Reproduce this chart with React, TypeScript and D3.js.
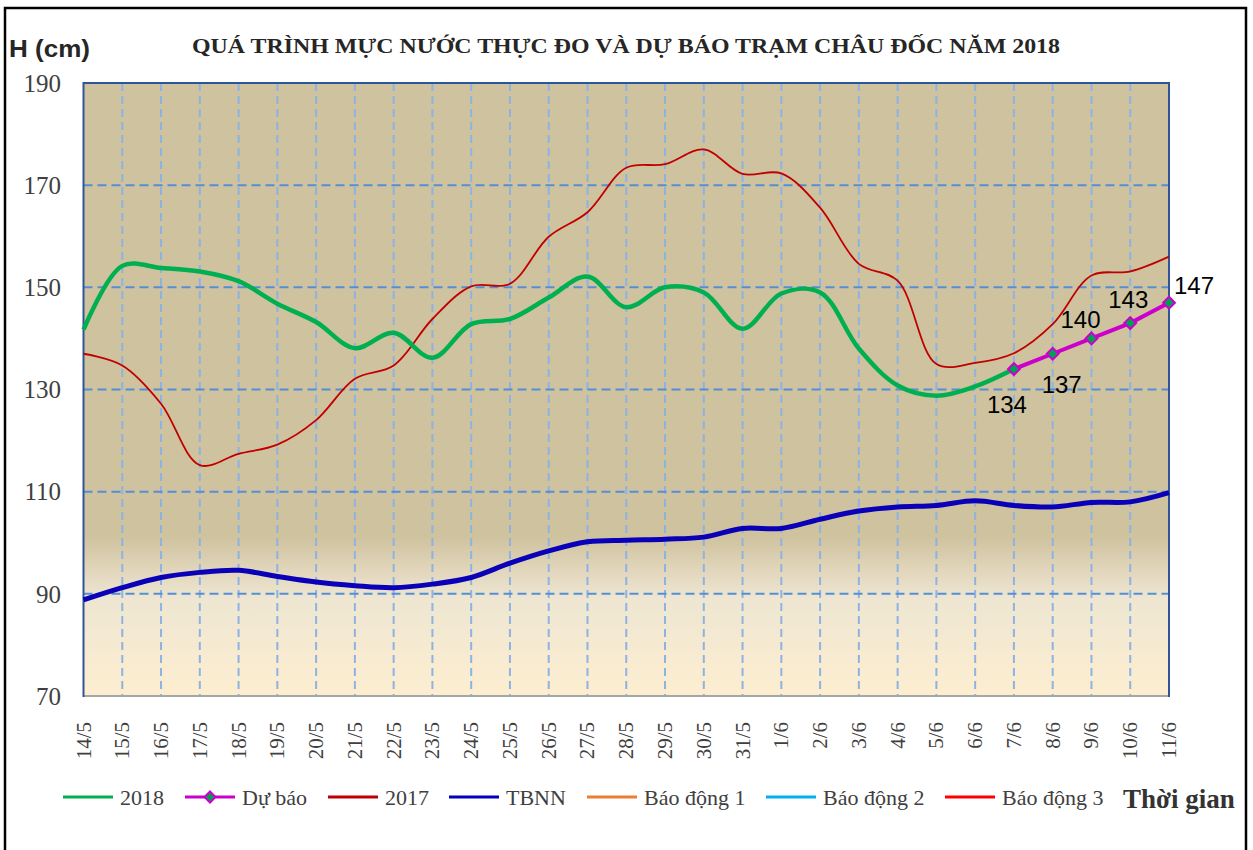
import React, { useEffect, useRef } from "react";
import * as d3 from "d3";

// ngày quan trắc
const days = [
  "14/5", "15/5", "16/5", "17/5", "18/5", "19/5", "20/5", "21/5", "22/5", "23/5",
  "24/5", "25/5", "26/5", "27/5", "28/5", "29/5", "30/5", "31/5",
  "1/6", "2/6", "3/6", "4/6", "5/6", "6/6", "7/6", "8/6", "9/6", "10/6", "11/6",
];

// mực nước thực đo 2018 (14/5 -> 7/6)
const obs2018 = [
  141.7, 154.2, 153.8, 153.1, 151.2, 146.8, 143.2, 138.1, 141.1, 136.2,
  142.8, 143.8, 148.0, 152.1, 146.1, 150.0, 149.0, 141.9,
  148.8, 149.0, 138.0, 130.8, 128.8, 130.6, 134.0,
];

// dự báo (7/6 -> 11/6)
const forecastDays = ["7/6", "8/6", "9/6", "10/6", "11/6"];
const forecast = [134, 137, 140, 143, 147];

const y2017 = [
  137.0, 134.7, 127.2, 115.2, 117.4, 119.2, 124.0, 132.1, 134.7, 143.8,
  150.2, 150.7, 159.9, 164.7, 173.4, 174.1, 177.0, 172.2,
  172.3, 165.6, 154.6, 151.3, 135.0, 135.2, 137.1, 142.8, 152.3, 153.1, 156.0,
];

// trung bình nhiều năm
const tbnn = [
  88.8, 91.2, 93.2, 94.2, 94.6, 93.4, 92.3, 91.6, 91.2, 91.9,
  93.2, 96.0, 98.4, 100.2, 100.5, 100.7, 101.1, 102.8,
  102.8, 104.6, 106.2, 107.0, 107.3, 108.2, 107.3, 107.0, 107.9, 108.0, 109.8,
];

const yTicks = [70, 90, 110, 130, 150, 170, 190];

// vị trí nhãn số dự báo so với điểm
const labelOffsets = [
  [-7, 44], [9, 39], [-11, -10], [-2, -15], [25, -9],
];

const legendItems = [
  { name: "2018", color: "#00B050", width: 3, marker: false },
  { name: "Dự báo", color: "#CC00CC", width: 3, marker: true },
  { name: "2017", color: "#C00000", width: 3, marker: false },
  { name: "TBNN", color: "#0000C0", width: 3, marker: false },
  { name: "Báo động 1", color: "#ED7D31", width: 3, marker: false },
  { name: "Báo động 2", color: "#00B0F0", width: 3, marker: false },
  { name: "Báo động 3", color: "#FF0000", width: 3, marker: false },
];
const legendX = [63, 185, 328, 449, 587, 766, 945];

const width = 1253;
const height = 850;
const plot = { left: 83.5, right: 1169, top: 83, bottom: 696 };
const serif = "'Liberation Serif', 'Times New Roman', serif";
const sans = "'Liberation Sans', Arial, sans-serif";

export default function App() {
  const ref = useRef<SVGSVGElement>(null);

  useEffect(() => {
    const svg = d3.select(ref.current);
    svg.selectAll("*").remove();

    const x = d3.scalePoint().domain(days).range([plot.left, plot.right]);
    const y = d3.scaleLinear().domain([70, 190]).range([plot.bottom, plot.top]);

    svg.append("rect").attr("width", width).attr("height", height).attr("fill", "#fff");
    // khung ngoài
    svg.append("rect")
      .attr("x", 5).attr("y", 8).attr("width", 1241).attr("height", 860)
      .attr("fill", "none").attr("stroke", "#000").attr("stroke-width", 2.5);

    // nền vùng vẽ
    const grad = svg.append("defs").append("linearGradient")
      .attr("id", "bg").attr("x1", 0).attr("y1", 0).attr("x2", 0).attr("y2", 1);
    [
      [0, "#CFC29F"], [0.74, "#CFC29F"], [0.8, "#E3D8BE"], [0.84, "#EEE6D2"], [1, "#FDEED0"],
    ].forEach(([o, c]) => grad.append("stop").attr("offset", o as number).attr("stop-color", c as string));

    svg.append("rect")
      .attr("x", plot.left).attr("y", plot.top)
      .attr("width", plot.right - plot.left).attr("height", plot.bottom - plot.top)
      .attr("fill", "url(#bg)");

    // lưới
    svg.append("g")
      .selectAll("line")
      .data(days.slice(1, -1))
      .join("line")
      .attr("x1", (d) => x(d)!).attr("x2", (d) => x(d)!)
      .attr("y1", plot.top).attr("y2", plot.bottom)
      .attr("stroke", "#8DB3E2").attr("stroke-width", 2).attr("stroke-dasharray", "8,5");
    svg.append("g")
      .selectAll("line")
      .data(yTicks.slice(1, -1))
      .join("line")
      .attr("x1", plot.left).attr("x2", plot.right)
      .attr("y1", (d) => y(d)).attr("y2", (d) => y(d))
      .attr("stroke", "#558ED5").attr("stroke-width", 2).attr("stroke-dasharray", "9,5");

    // viền vùng vẽ
    svg.append("rect")
      .attr("x", plot.left).attr("y", plot.top)
      .attr("width", plot.right - plot.left).attr("height", plot.bottom - plot.top)
      .attr("fill", "none").attr("stroke", "#2F5597").attr("stroke-width", 2);
    svg.append("line")
      .attr("x1", plot.left + 1).attr("x2", plot.right - 1)
      .attr("y1", plot.bottom).attr("y2", plot.bottom)
      .attr("stroke", "#A6A6A6").attr("stroke-width", 2);

    // trục y
    svg.append("g")
      .selectAll("text")
      .data(yTicks)
      .join("text")
      .attr("x", 61).attr("y", (d) => y(d))
      .attr("dy", "0.35em")
      .attr("text-anchor", "end")
      .attr("font-family", serif).attr("font-size", 25).attr("fill", "#404040")
      .text((d) => d);

    // trục x
    svg.append("g")
      .selectAll("text")
      .data(days)
      .join("text")
      .attr("transform", (d) => `translate(${x(d)! + 7},722) rotate(-90)`)
      .attr("text-anchor", "end")
      .attr("font-family", serif).attr("font-size", 21).attr("fill", "#404040")
      .text((d) => d);

    const smooth = d3.line<number>()
      .x((_, i) => x(days[i])!)
      .y((d) => y(d))
      .curve(d3.curveCatmullRom.alpha(0.5));

    svg.append("path").datum(tbnn)
      .attr("d", smooth).attr("fill", "none")
      .attr("stroke", "#0A00B8").attr("stroke-width", 5);

    svg.append("path").datum(y2017)
      .attr("d", smooth).attr("fill", "none")
      .attr("stroke", "#C00000").attr("stroke-width", 1.8);

    svg.append("path").datum(obs2018)
      .attr("d", smooth).attr("fill", "none")
      .attr("stroke", "#00B050").attr("stroke-width", 4.5);

    const straight = d3.line<number>()
      .x((_, i) => x(forecastDays[i])!)
      .y((d) => y(d));
    svg.append("path").datum(forecast)
      .attr("d", straight).attr("fill", "none")
      .attr("stroke", "#CC00CC").attr("stroke-width", 4);

    const diamond = d3.symbol().type(d3.symbolSquare).size(70);
    svg.append("g")
      .selectAll("path")
      .data(forecast)
      .join("path")
      .attr("d", diamond)
      .attr("transform", (d, i) => `translate(${x(forecastDays[i])},${y(d)}) rotate(45)`)
      .attr("fill", "#00A050").attr("stroke", "#CC00CC").attr("stroke-width", 2);

    svg.append("g")
      .selectAll("text")
      .data(forecast)
      .join("text")
      .attr("x", (d, i) => x(forecastDays[i])! + labelOffsets[i][0])
      .attr("y", (d, i) => y(d) + labelOffsets[i][1])
      .attr("text-anchor", "middle")
      .attr("font-family", sans).attr("font-size", 24).attr("fill", "#000")
      .text((d) => d);

    // tiêu đề
    svg.append("text")
      .attr("x", 192).attr("y", 53)
      .attr("textLength", 868).attr("lengthAdjust", "spacingAndGlyphs")
      .attr("font-family", serif).attr("font-weight", "bold").attr("font-size", 21)
      .attr("fill", "#262626")
      .text("QUÁ TRÌNH MỰC NƯỚC THỰC ĐO VÀ DỰ BÁO TRẠM CHÂU ĐỐC NĂM 2018");

    svg.append("text")
      .attr("x", 9).attr("y", 57)
      .attr("textLength", 81).attr("lengthAdjust", "spacingAndGlyphs")
      .attr("font-family", sans).attr("font-weight", "bold").attr("font-size", 23)
      .attr("fill", "#262626")
      .text("H (cm)");

    // chú giải
    const lg = svg.append("g")
      .selectAll("g")
      .data(legendItems)
      .join("g")
      .attr("transform", (d, i) => `translate(${legendX[i]},797)`);
    lg.append("line")
      .attr("x1", 0).attr("x2", 50).attr("y1", 0).attr("y2", 0)
      .attr("stroke", (d) => d.color).attr("stroke-width", (d) => d.width);
    lg.filter((d) => d.marker)
      .append("path")
      .attr("d", d3.symbol().type(d3.symbolSquare).size(60))
      .attr("transform", "translate(25,0) rotate(45)")
      .attr("fill", "#00A050").attr("stroke", "#CC00CC").attr("stroke-width", 2);
    lg.append("text")
      .attr("x", 57).attr("y", 0).attr("dy", "0.35em")
      .attr("font-family", serif).attr("font-size", 22).attr("fill", "#404040")
      .text((d) => d.name);

    svg.append("text")
      .attr("x", 1123).attr("y", 808)
      .attr("font-family", serif).attr("font-weight", "bold").attr("font-size", 27)
      .attr("fill", "#333")
      .text("Thời gian");
  }, []);

  return (
    <svg
      ref={ref}
      width={width}
      height={height}
      style={{ position: "absolute", left: 0, top: 0 }}
    />
  );
}
